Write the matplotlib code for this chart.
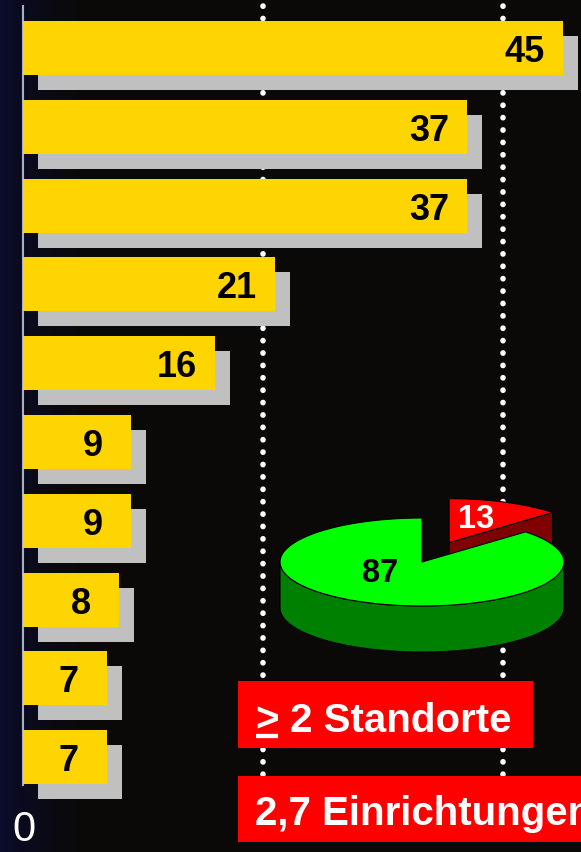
import numpy as np
import matplotlib
matplotlib.use("Agg")
import matplotlib.pyplot as plt
import matplotlib.transforms as mtransforms
from matplotlib.patches import Rectangle, Polygon

plt.rcParams['font.family'] = ['Liberation Sans', 'DejaVu Sans']

# bar values, top to bottom
values = [45, 37, 37, 21, 16, 9, 9, 8, 7, 7]
grid_at = [20, 40]
zero_label = "0"

# pie: share of single vs. several sites
pie_values = [87, 13]
pie_labels = ["87", "13"]
pie_colors = ['#00ff00', '#ff0000']
pie_side_colors = ['#008000', '#800000']
pie_explode = [0.0, 0.48]

box_prefix = ">"
box_texts = [" 2 Standorte", "2,7 Einrichtungen"]

W, H = 581, 853
fig = plt.figure(figsize=(W / 100, H / 100), dpi=100)
fig.patch.set_facecolor('#0a0907')

# background (dark, bluish at the left edge)
ax_bg = fig.add_axes([0, 0, 1, 1])
ax_bg.set_xlim(0, W)
ax_bg.set_ylim(H, 0)
ax_bg.axis('off')
grad = np.zeros((1, 200, 4))
grad[..., 0] = 0.04
grad[..., 1] = 0.05
grad[..., 2] = 0.20
grad[..., 3] = np.clip(1 - np.linspace(0, 1, 200) ** 0.6, 0, 1)
ax_bg.imshow(grad, extent=[0, 90, H, 0], aspect='auto', zorder=0)

# bars
px_unit = 12.0   # pixels per unit
x0 = 23          # pixel of value 0
pitch = 78.8     # pixels between bar centres
y0 = 49          # pixel centre of the first bar

ax = fig.add_axes([0, 0, 1, 1])
ax.patch.set_visible(False)
pos = np.arange(len(values))
bar_h = 54 / pitch
shadow = mtransforms.offset_copy(ax.transData, fig=fig, x=15, y=-15, units='dots')
ax.barh(pos, values, height=bar_h, color='#c0c0c0', transform=shadow, zorder=2)
ax.barh(pos, values, height=bar_h, color='#ffd500', zorder=3)
for i, v in enumerate(values):
    ax.annotate(str(v), (v, i), xytext=(-38, -13), textcoords='offset pixels',
                ha='center', va='baseline', fontsize=26, fontweight='bold',
                color='black', zorder=4)

# dotted guide lines
for g in grid_at:
    ax.plot([g, g], [(7 - y0) / pitch, (780 - y0) / pitch], color='white',
            lw=4.0, linestyle=(0, (0.05, 2.18)), dash_capstyle='round', zorder=1)
ax.plot([0, 0], [(7 - y0) / pitch, (786 - y0) / pitch], color='#aab0c0',
        lw=1.5, zorder=1)
ax.set_xlim(-x0 / px_unit, (W - x0) / px_unit)
ax.set_ylim((H - y0) / pitch, -y0 / pitch)
ax.axis('off')

# overlay in pixel coordinates: pie, boxes, texts
ax2 = fig.add_axes([0, 0, 1, 1])
ax2.patch.set_visible(False)
ax2.set_xlim(0, W)
ax2.set_ylim(H, 0)
ax2.axis('off')

cx, cy, ra, rb, depth = 422, 563, 142, 44, 46


def ell(t, xc, yc):
    t = np.radians(t)
    return np.column_stack([xc + ra * np.cos(t), yc - rb * np.sin(t)])


fr = np.array(pie_values) / sum(pie_values)
starts = 90 + 360 * np.concatenate([[0], np.cumsum(fr)[:-1]])
ends = starts + 360 * fr
# draw back slices first (the exploded red one sits behind)
for k in sorted(range(len(pie_values)), key=lambda k: -np.sin(np.radians((starts[k] + ends[k]) / 2))):
    t1, t2 = starts[k], ends[k]
    mid = np.radians((t1 + t2) / 2)
    xc = cx + pie_explode[k] * ra * np.cos(mid)
    yc = cy - pie_explode[k] * rb * np.sin(mid)
    # radial faces
    for t, nrm in [(t1, t1 - 90), (t2, t2 + 90)]:
        if np.sin(np.radians(nrm)) < -1e-6:
            p = ell([t], xc, yc)[0]
            quad = [(xc, yc), tuple(p), (p[0], p[1] + depth), (xc, yc + depth)]
            ax2.add_patch(Polygon(quad, closed=True, facecolor=pie_side_colors[k],
                                  edgecolor='black', lw=0.8, zorder=2))
    # front curved side
    for kk in range(2):
        lo = max(t1, 180 + 360 * kk)
        hi = min(t2, 360 + 360 * kk)
        if lo < hi:
            ts = np.linspace(lo, hi, 100)
            top = ell(ts, xc, yc)
            bot = top[::-1] + [0, depth]
            ax2.add_patch(Polygon(np.vstack([top, bot]), closed=True,
                                  facecolor=pie_side_colors[k], edgecolor='black',
                                  lw=0.8, zorder=2))
    ts = np.linspace(t1, t2, 200)
    face = np.vstack([[xc, yc], ell(ts, xc, yc)])
    ax2.add_patch(Polygon(face, closed=True, facecolor=pie_colors[k],
                          edgecolor='black', lw=0.8, zorder=2))

ax2.text(380, 581.5, pie_labels[0], ha='center', va='baseline', fontsize=23.5,
         fontweight='bold', color='black', zorder=3)
ax2.text(476, 528, pie_labels[1], ha='center', va='baseline', fontsize=23.5,
         fontweight='bold', color='white', zorder=3)

# red boxes
ax2.add_patch(Rectangle((238, 682), 295, 67, facecolor='#ff0000', edgecolor='none', zorder=2))
ax2.add_patch(Rectangle((238, 777), 400, 66, facecolor='#ff0000', edgecolor='none', zorder=2))

tp = ax2.text(255, 731.7, box_prefix, ha='left', va='baseline', fontsize=29,
              fontweight='bold', color='white', zorder=3)
fig.canvas.draw()
bb = tp.get_window_extent().transformed(ax2.transData.inverted())
ax2.text(bb.x1, 731.7, box_texts[0], ha='left', va='baseline', fontsize=29,
         fontweight='bold', color='white', zorder=3)
ax2.plot([bb.x0 + 1, bb.x1 - 1], [737, 737], color='white', lw=3.1,
         solid_capstyle='butt', zorder=3)
# the second label runs off the right edge, as in the original slide
ax2.text(255, 825, box_texts[1], ha='left', va='baseline', fontsize=29,
         fontweight='bold', color='white', zorder=3)

ax2.text(24, 841, zero_label, ha='center', va='baseline', fontsize=30,
         color='white', zorder=3)

fig.savefig('out.png', dpi=100, facecolor=fig.get_facecolor())
